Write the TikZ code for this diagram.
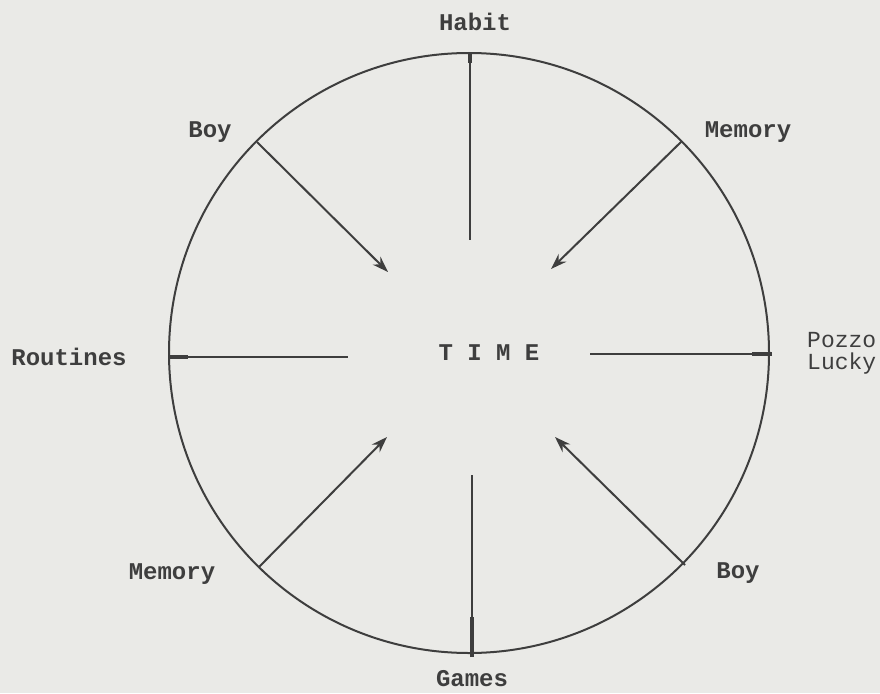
\documentclass[tikz,border=0pt]{standalone}
\usepackage{fontspec}
\setmonofont{Liberation Mono}
\usetikzlibrary{arrows.meta}
\definecolor{paper}{RGB}{234,234,231}
\definecolor{ink}{RGB}{62,62,62}
\tikzset{
  lab/.style={font=\fontsize{24}{26}\selectfont\ttfamily\bfseries, text=ink, inner sep=0pt},
  lablight/.style={font=\fontsize{23}{22}\selectfont\ttfamily, text=ink, inner sep=0pt, align=left},
  ring/.style={draw=ink, line width=2pt},
  spoke/.style={draw=ink, line width=2pt},
  inarrow/.style={draw=ink, line width=2pt, -{Stealth[length=16pt,width=11pt]}},
}
\begin{document}
\begin{tikzpicture}[x=1pt,y=-1pt]
\fill[paper] (0,0) rectangle (880,693);
\useasboundingbox (0,0) rectangle (880,693);
% circle
\node[ring, circle, minimum size=600pt, inner sep=0pt] (C) at (469,353) {};
% centre text
\node[lab] (time) at (489,353) {T I M E};
% labels
\node[lab] (habit) at (475,22) {Habit};
\node[lab] (boy1) at (210,132) {Boy};
\node[lab] (mem1) at (748,132) {Memory};
\node[lab] (rout) at (69,357) {Routines};
\node[lablight, anchor=west] (pl) at (807,353) {Pozzo\\Lucky};
\node[lab] (mem2) at (172,574) {Memory};
\node[lab] (boy2) at (738,573) {Boy};
\node[lab] (games) at (472,679) {Games};
% spoke end points
\coordinate (t0) at (470,53);   \coordinate (t1) at (470,240);
\coordinate (b0) at (472,475);  \coordinate (b1) at (472,657);
\coordinate (l0) at (168,357);  \coordinate (l1) at (348,357);
\coordinate (r0) at (590,354);  \coordinate (r1) at (772,354);
\coordinate (a0) at (257,142);  \coordinate (a1) at (388,272);
\coordinate (c0) at (682,141);  \coordinate (c1) at (551,269);
\coordinate (d0) at (259,567);  \coordinate (d1) at (387,437);
\coordinate (e0) at (685,565);  \coordinate (e1) at (555,437);
% spokes
\draw[spoke] (t0) -- (t1);
\draw[spoke] (b0) -- (b1);
\draw[spoke] (l0) -- (l1);
\draw[spoke] (r0) -- (r1);
\draw[line width=4pt, ink] (t0) -- ++(0,10);
\draw[line width=4pt, ink] (b1) -- ++(0,-40);
\draw[line width=4pt, ink] (l0) -- ++(20,0);
\draw[line width=4pt, ink] (r1) -- ++(-20,0);
% arrows
\draw[inarrow] (a0) -- (a1);
\draw[inarrow] (c0) -- (c1);
\draw[inarrow] (d0) -- (d1);
\draw[inarrow] (e0) -- (e1);
\end{tikzpicture}
\end{document}
